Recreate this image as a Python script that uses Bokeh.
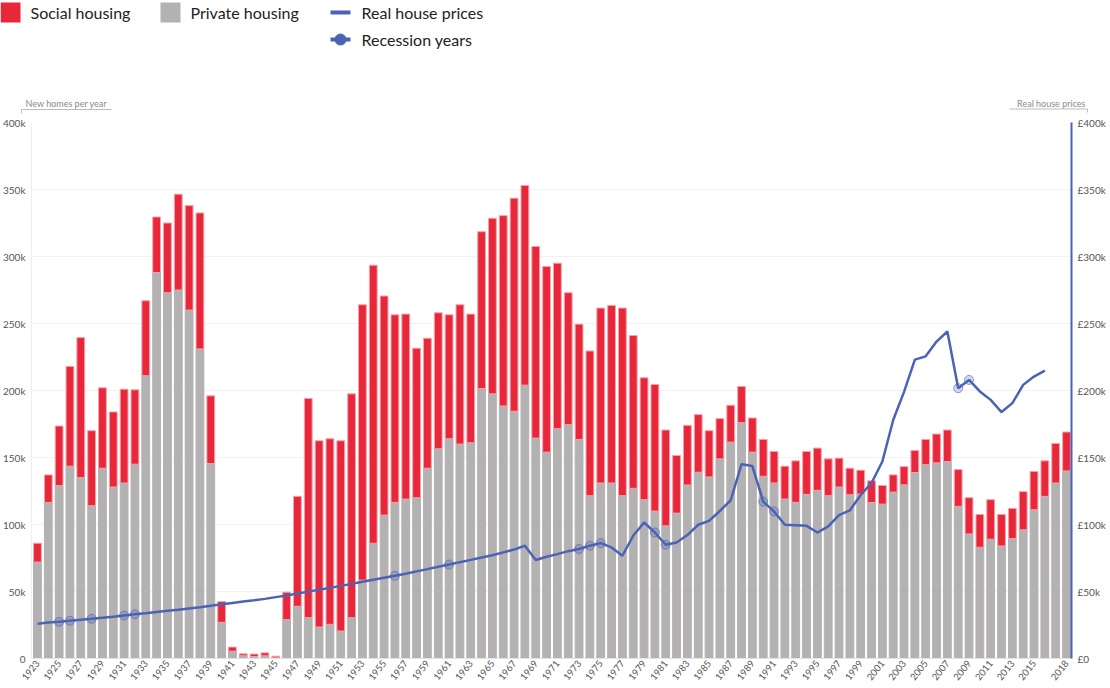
from bokeh.plotting import figure
from bokeh.models import ColumnDataSource, Range1d, LinearAxis, FixedTicker
from bokeh.layouts import column
from bokeh.core.properties import value
from bokeh.embed import file_html
from bokeh.resources import INLINE

# ---------------- data (thousands) ----------------
years = list(range(1923, 2019))
private = [72, 116.5, 129, 143.5, 135, 114, 142, 128, 131, 145,
           211, 288, 273, 275, 260, 231, 145.5, 27, 5.5, 2,
           1.5, 2, 0.5, 29, 39, 30.5, 23.5, 25.5, 20.5, 30.5,
           58.5, 86, 107, 116.5, 119, 120, 142, 156.5, 164, 160,
           161, 201.5, 197.5, 188.5, 184.5, 204, 164.5, 154, 171.5, 174.5,
           163.5, 121.5, 131, 131, 121.5, 127, 118.5, 110, 99, 108.5,
           129.5, 139, 135.5, 149, 161.5, 176, 154, 136, 131, 119,
           116.5, 122.5, 125.5, 121.5, 128, 122.2, 122.7, 116.4, 115.2, 124.2,
           129.6, 138.8, 144.6, 146, 147, 113.5, 93, 83, 89, 84,
           89.5, 96, 111, 121, 131, 140]
social = [14, 20.5, 44.5, 74.5, 104.5, 56, 60, 56, 70, 55.5,
          56, 41.5, 52, 71.5, 78, 101.5, 50.5, 15.5, 3, 1.5,
          1.8, 2.2, 1.2, 20.5, 82, 163.5, 139, 138.5, 142, 167,
          205.5, 207.5, 163.5, 140, 138, 111.5, 97, 101.5, 92.5, 104,
          96, 117, 131, 142, 159, 149, 143, 138.5, 123.5, 98.5,
          86, 108, 130.5, 132.5, 140, 114, 91, 94.5, 71.5, 43,
          44.5, 43, 34.5, 30, 27.5, 27, 25.5, 27.5, 23.5, 24.5,
          31, 32, 31.5, 27.5, 21.5, 19.8, 17.8, 16.2, 13.9, 12.8,
          13.6, 16.4, 18.9, 21.5, 23.5, 27.5, 27, 24.5, 29.5, 23.5,
          22.5, 28.5, 28.5, 26.5, 29.5, 29]

price_years = list(range(1923, 2017))
price = [26, 26.8, 27.4, 28.2, 28.9, 29.6, 30.4, 31.2, 32.1, 33,
         33.8, 34.7, 35.6, 36.4, 37.3, 38.2, 39.4, 40.5, 41.5, 42.5,
         43.4, 44.5, 45.8, 47, 48.5, 49.9, 51.3, 52.7, 54.2, 55.7,
         57.2, 58.7, 60.2, 61.7, 63.3, 65, 66.7, 68.4, 70.1, 71.9,
         73.6, 75.4, 77.1, 79.2, 81.3, 84.1, 73.5, 75.9, 77.9, 80.1,
         81.7, 84.2, 86.1, 82.9, 76.7, 91.6, 101.5, 94, 84.9, 86.6,
         92.1, 99.8, 102.7, 110.1, 118.1, 145, 143.6, 117.1, 109.7, 99.8,
         99.5, 99, 94, 98.6, 107, 110.5, 122, 131, 147, 178,
         199, 223, 225.5, 236.5, 244, 201.7, 207.9, 199.3, 193, 183.9,
         190.6, 204.2, 210.4, 214.9]

recession_years = [1925, 1926, 1928, 1931, 1932, 1956, 1961, 1973, 1974,
                   1975, 1980, 1981, 1990, 1991, 2008, 2009]

tick_years = list(range(1923, 2016, 2)) + [2018]
y_ticks = [0, 50, 100, 150, 200, 250, 300, 350, 400]
left_labels = ["0", "50k", "100k", "150k", "200k", "250k", "300k", "350k", "400k"]
right_labels = ["£0", "£50k", "£100k", "£150k", "£200k", "£250k", "£300k", "£350k", "£400k"]

RED = "#e8283a"
GRAY = "#b3b1b2"
BLUE = "#4b63b6"
FONT = "Lato"

# ---------------- header (legend + axis titles) ----------------
W = 1110
HH = 114
hdr = figure(width=W, height=HH, x_range=Range1d(0, W), y_range=Range1d(HH, 0),
             toolbar_location=None, output_backend="svg", min_border=0)
hdr.frame_align = False
hdr.axis.visible = False
hdr.grid.visible = False
hdr.outline_line_color = None

hdr.quad(left=[0, 160], right=[20, 180], top=[2, 2], bottom=[22, 22],
         fill_color=[RED, GRAY], line_color=None)
hdr.segment(x0=[330, 330], y0=[12, 39], x1=[350, 350], y1=[12, 39],
            line_color=BLUE, line_width=4)
hdr.scatter(x=[340], y=[39], size=11, fill_color=BLUE, line_color=BLUE)
hdr.text(x=[30, 190, 361, 361], y=[12, 12, 12, 39],
         text=["Social housing", "Private housing", "Real house prices", "Recession years"],
         text_font=value(FONT), text_font_size="16px", text_color="#222222",
         text_baseline="middle", text_align="left")

# axis titles with bracket
hdr.text(x=[25], y=[103], text=["New homes per year"], text_font=value(FONT),
         text_font_size="9px", text_color="#8a8a8a", text_baseline="middle", text_align="left")
hdr.text(x=[1085], y=[103], text=["Real house prices"], text_font=value(FONT),
         text_font_size="9px", text_color="#8a8a8a", text_baseline="middle", text_align="right")
hdr.segment(x0=[21, 21, 1009, 1087], y0=[109, 109, 108.5, 108.5],
            x1=[111, 21, 1087, 1087], y1=[109, 113, 108.5, 112],
            line_color="#bbbbbb", line_width=1)

# ---------------- main chart ----------------
src = ColumnDataSource(dict(year=years, private=private, social=social))

p = figure(width=W, height=572, x_range=Range1d(1922.45, 2018.46), y_range=Range1d(0, 400),
           toolbar_location=None, output_backend="svg",
           min_border_left=23, min_border_right=39, min_border_top=8, min_border_bottom=20)
p.frame_align = False
p.outline_line_color = None
p.background_fill_color = "white"

p.vbar_stack(["private", "social"], x="year", width=0.72, source=src,
             fill_color=[GRAY, RED], line_color=[GRAY, "#f2a3ab"], line_width=1)

p.extra_y_ranges = {"price": Range1d(0, 400)}
p.line(price_years, price, y_range_name="price", line_color=BLUE, line_width=2.5)
rec_price = [price[price_years.index(y)] for y in recession_years]
p.scatter(recession_years, rec_price, y_range_name="price", size=9,
          fill_color=BLUE, fill_alpha=0.25, line_color=BLUE, line_alpha=0.6, line_width=1)


def style_axis(a, standoff):
    a.major_tick_line_color = None
    a.minor_tick_line_color = None
    a.major_tick_out = 0
    a.major_tick_in = 0
    a.minor_tick_out = 0
    a.minor_tick_in = 0
    a.major_label_text_font = FONT
    a.major_label_text_color = "#555555"
    a.major_label_standoff = standoff


# left axis
ax = p.yaxis[0]
ax.ticker = FixedTicker(ticks=y_ticks)
ax.major_label_overrides = dict(zip(y_ticks, left_labels))
ax.axis_line_color = "#eeeeee"
style_axis(ax, 6)
ax.major_label_text_font_size = "10px"

# right axis
rax = LinearAxis(y_range_name="price", ticker=FixedTicker(ticks=y_ticks))
rax.major_label_overrides = dict(zip(y_ticks, right_labels))
rax.axis_line_color = BLUE
rax.axis_line_width = 2
style_axis(rax, 6)
rax.major_label_text_font_size = "10px"
p.add_layout(rax, "right")

# bottom axis
bx = p.xaxis[0]
bx.ticker = FixedTicker(ticks=tick_years)
bx.major_label_orientation = 0.9
bx.axis_line_color = "#e3e3e3"
style_axis(bx, 3)
bx.major_label_text_font_size = "9.5px"

p.xgrid.grid_line_color = None
p.ygrid.grid_line_color = "#f2f2f2"
p.ygrid.ticker = FixedTicker(ticks=y_ticks)

layout = column(hdr, p, spacing=0)
open("out.html", "w").write(file_html(layout, INLINE))
